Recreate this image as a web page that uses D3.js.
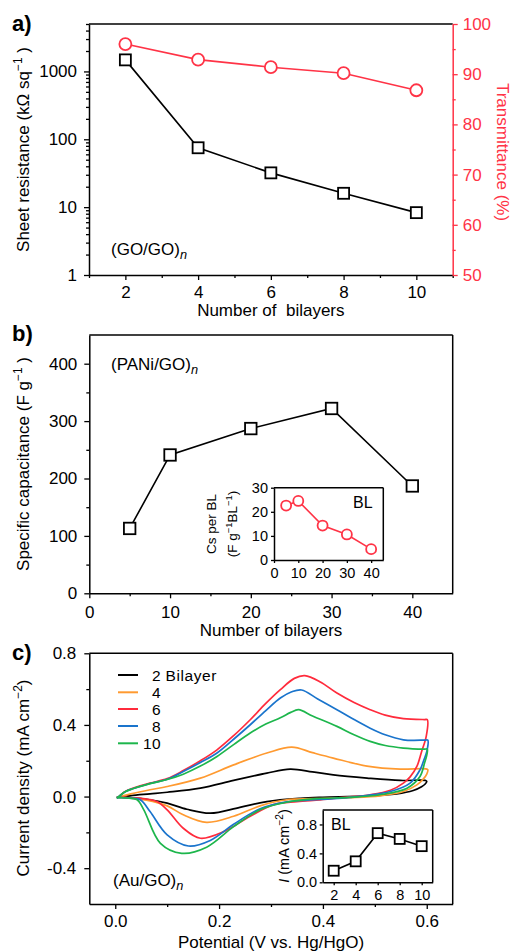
<!DOCTYPE html>
<html><head><meta charset="utf-8">
<script src="https://cdn.jsdelivr.net/npm/d3@7"></script>
<style>body{margin:0;background:#fff} svg{display:block} text{font-family:"Liberation Sans",Arial,Helvetica,sans-serif}</style>
</head><body><svg id="chart" width="513" height="951"></svg>
<script>
// ---------- data ----------
const bilayersA = [2, 4, 6, 8, 10];
const sheetResistance = [1480, 75, 32, 16, 8.3];
const transmittance = [96.0, 92.9, 91.4, 90.2, 86.8];

const bilayersB = [5, 10, 20, 30, 40];
const specificCapacitance = [113, 241, 287, 322, 187];
const capacitancePerBL = [22.6, 24.5, 14.3, 10.6, 4.5];

const bilayersC = [2, 4, 6, 8, 10];
const peakCurrent = [0.16, 0.29, 0.68, 0.60, 0.50];

const cvLabels = ["2", "4", "6", "8", "10"];
const cvColors = ["#000000", "#ff9a30", "#ff2b3c", "#1a74cc", "#1db64c"];

const cv2 = [[0.003,-0.005],[0.03,0.005],[0.067,0.015],[0.1,0.024],[0.164,0.047],[0.228,0.09],[0.292,0.131],[0.337,0.153],[0.38,0.138],[0.42,0.121],[0.485,0.103],[0.549,0.09],[0.598,0.09],
  [0.6,0.085],[0.597,0.07],[0.59,0.055],[0.574,0.034],[0.542,0.015],[0.478,0.002],[0.4,-0.004],[0.356,-0.01],[0.292,-0.028],[0.24,-0.06],[0.183,-0.093],[0.138,-0.071],[0.1,-0.037],[0.06,-0.015],[0.02,-0.005],[0.003,-0.002]];
const cv4 = [[0.003,-0.005],[0.03,0.015],[0.067,0.038],[0.1,0.056],[0.164,0.103],[0.228,0.177],[0.292,0.243],[0.34,0.276],[0.38,0.245],[0.42,0.215],[0.485,0.17],[0.549,0.153],[0.598,0.155],
  [0.602,0.15],[0.6,0.125],[0.594,0.1],[0.581,0.065],[0.555,0.028],[0.51,0.004],[0.45,-0.006],[0.38,-0.012],[0.33,-0.018],[0.279,-0.052],[0.228,-0.11],[0.176,-0.144],[0.131,-0.102],[0.1,-0.052],[0.06,-0.02],[0.02,-0.006],[0.003,-0.003]];
const cv6 = [[0.003,-0.01],[0.02,0.03],[0.035,0.047],[0.067,0.075],[0.1,0.1],[0.131,0.145],[0.164,0.2],[0.196,0.261],[0.228,0.34],[0.26,0.429],[0.29,0.52],[0.318,0.597],[0.345,0.66],[0.365,0.675],[0.395,0.64],[0.427,0.578],[0.46,0.525],[0.491,0.485],[0.52,0.455],[0.555,0.435],[0.596,0.43],
  [0.601,0.43],[0.599,0.336],[0.59,0.25],[0.581,0.168],[0.568,0.11],[0.555,0.075],[0.53,0.035],[0.491,0.01],[0.44,-0.005],[0.395,-0.018],[0.35,-0.028],[0.305,-0.045],[0.26,-0.11],[0.209,-0.196],[0.164,-0.233],[0.131,-0.177],[0.1,-0.074],[0.08,-0.028],[0.05,-0.01],[0.02,-0.005],[0.003,-0.005]];
const cv8 = [[0.003,-0.01],[0.02,0.028],[0.035,0.045],[0.067,0.073],[0.1,0.097],[0.131,0.14],[0.164,0.19],[0.196,0.243],[0.228,0.32],[0.26,0.401],[0.29,0.48],[0.318,0.55],[0.34,0.585],[0.359,0.595],[0.39,0.545],[0.427,0.485],[0.46,0.43],[0.491,0.382],[0.52,0.345],[0.555,0.317],[0.596,0.315],
  [0.602,0.315],[0.6,0.25],[0.594,0.2],[0.587,0.149],[0.568,0.075],[0.53,0.028],[0.478,0.004],[0.42,-0.012],[0.37,-0.02],[0.33,-0.03],[0.279,-0.068],[0.228,-0.155],[0.183,-0.245],[0.141,-0.276],[0.1,-0.214],[0.067,-0.084],[0.048,-0.018],[0.02,-0.008],[0.003,-0.005]];
const cv10 = [[0.003,-0.01],[0.02,0.028],[0.035,0.045],[0.067,0.072],[0.1,0.095],[0.131,0.125],[0.164,0.17],[0.196,0.224],[0.228,0.29],[0.26,0.355],[0.29,0.405],[0.318,0.44],[0.338,0.47],[0.353,0.485],[0.38,0.45],[0.427,0.392],[0.46,0.345],[0.491,0.308],[0.52,0.285],[0.555,0.271],[0.596,0.265],
  [0.601,0.265],[0.6,0.23],[0.596,0.19],[0.587,0.112],[0.562,0.047],[0.51,0.01],[0.45,-0.005],[0.388,-0.012],[0.33,-0.032],[0.279,-0.074],[0.228,-0.168],[0.176,-0.283],[0.128,-0.317],[0.087,-0.261],[0.055,-0.074],[0.042,-0.018],[0.02,-0.008],[0.003,-0.005]];
const cvCurves = [cv2, cv4, cv6, cv8, cv10];

// ---------- helpers ----------
const svg = d3.select("#chart");
const RED = "#ff3346";
const FS = 17;
const TFS = 17;

function drawAxis(axisFn, scale, transform, majors, minors, fmt, color, fs, majLen, minLen, pad) {
  const g = svg.append("g").attr("transform", transform);
  g.call(axisFn(scale).tickValues(majors).tickFormat(fmt).tickSize(majLen).tickSizeOuter(0).tickPadding(pad));
  g.select(".domain").attr("stroke", color).attr("stroke-width", 1.5);
  g.selectAll(".tick line").attr("stroke", color).attr("stroke-width", 1.3);
  g.selectAll(".tick text").attr("fill", color).attr("font-size", fs);
  if (minors && minors.length) {
    const gm = svg.append("g").attr("transform", transform);
    gm.call(axisFn(scale).tickValues(minors).tickFormat("").tickSize(minLen).tickSizeOuter(0));
    gm.select(".domain").remove();
    gm.selectAll(".tick line").attr("stroke", color).attr("stroke-width", 1.3);
  }
  return g;
}
function hline(x1, x2, y, color) {
  svg.append("line").attr("x1", x1).attr("x2", x2).attr("y1", y).attr("y2", y).attr("stroke", color || "#000").attr("stroke-width", 1.5);
}
function vline(x, y1, y2, color) {
  svg.append("line").attr("x1", x).attr("x2", x).attr("y1", y1).attr("y2", y2).attr("stroke", color || "#000").attr("stroke-width", 1.5);
}
function label(x, y, txt, opts) {
  opts = opts || {};
  const t = svg.append("text").attr("x", x).attr("y", y).attr("font-size", opts.fs || FS)
    .attr("fill", opts.color || "#000").attr("text-anchor", opts.anchor || "start");
  if (opts.weight) t.attr("font-weight", opts.weight);
  if (opts.pre) t.style("white-space", "pre");
  if (opts.ls) t.attr("letter-spacing", opts.ls);
  t.text(txt);
  return t;
}
function rotLabel(x, y, angle, parts, opts) {
  opts = opts || {};
  const fs = opts.fs || FS;
  const t = svg.append("text").attr("transform", `translate(${x},${y}) rotate(${angle})`)
    .attr("text-anchor", "middle").attr("font-size", fs).attr("fill", opts.color || "#000");
  parts.forEach(p => {
    const s = t.append("tspan").text(p.t);
    if (p.sup) s.attr("font-size", fs * 0.7).attr("dy", -fs * 0.4);
    if (p.down) s.attr("dy", fs * 0.4);
    if (p.it) s.attr("font-style", "italic");
  });
  return t;
}
function subLabel(x, y, main, sub) {
  const t = svg.append("text").attr("x", x).attr("y", y).attr("font-size", FS);
  t.append("tspan").text(main);
  t.append("tspan").text(sub).attr("font-style", "italic").attr("font-size", FS * 0.75).attr("dy", 4);
}
function squares(xs, ys, xS, yS, size, color) {
  svg.append("g").selectAll("rect").data(xs.map((d, i) => [d, ys[i]])).join("rect")
    .attr("x", d => xS(d[0]) - size / 2).attr("y", d => yS(d[1]) - size / 2)
    .attr("width", size).attr("height", size)
    .attr("fill", "#fff").attr("stroke", color).attr("stroke-width", 1.8);
}
function circles(xs, ys, xS, yS, r, color) {
  svg.append("g").selectAll("circle").data(xs.map((d, i) => [d, ys[i]])).join("circle")
    .attr("cx", d => xS(d[0])).attr("cy", d => yS(d[1])).attr("r", r)
    .attr("fill", "#fff").attr("stroke", color).attr("stroke-width", 1.8);
}
function polyline(xs, ys, xS, yS, color) {
  svg.append("path").datum(xs.map((d, i) => [d, ys[i]]))
    .attr("d", d3.line().x(d => xS(d[0])).y(d => yS(d[1])))
    .attr("fill", "none").attr("stroke", color).attr("stroke-width", 1.6);
}

// ---------- panel a ----------
const aL = 89, aR = 452.7, aT = 24, aB = 275;
const xA = d3.scaleLinear().domain([1, 11]).range([aL, aR]);
const yA = d3.scaleLog().domain([1, 5000]).range([aB, aT]);
const yT = d3.scaleLinear().domain([50, 100]).range([aB, aT]);

hline(aL, aR, aT);
const logMinor = [];
[1, 10, 100, 1000].forEach(dec => { for (let k = 2; k <= 9; k++) if (dec * k <= 5000) logMinor.push(dec * k); });
drawAxis(d3.axisLeft, yA, `translate(${aL},0)`, [1, 10, 100, 1000], logMinor, d3.format("d"), "#000", TFS, 5, 3, 7);
drawAxis(d3.axisBottom, xA, `translate(0,${aB})`, [2, 4, 6, 8, 10], [1, 3, 5, 7, 9, 11], d3.format("d"), "#000", TFS, 5, 3, 6);
drawAxis(d3.axisRight, yT, `translate(${aR},0)`, [50, 60, 70, 80, 90, 100], [55, 65, 75, 85, 95], d3.format("d"), RED, TFS, 5, 3, 5);

polyline(bilayersA, sheetResistance, xA, yA, "#000");
polyline(bilayersA, transmittance, xA, yT, RED);
squares(bilayersA, sheetResistance, xA, yA, 11, "#000");
circles(bilayersA, transmittance, xA, yT, 6, RED);

label(12, 30.5, "a)", {fs: 22, weight: "bold"});
subLabel(111, 255, "(GO/GO)", "n");
label((aL + aR) / 2, 316, "Number of  bilayers", {anchor: "middle", pre: true});
rotLabel(29, 149.5, -90, [{t: "Sheet resistance (kΩ sq"}, {t: "−1", sup: true}, {t: " )", down: true}]);
rotLabel(497, 152, 90, [{t: "Transmittance (%)"}], {color: RED});

// ---------- panel b ----------
const bL = 89.3, bR = 452.7, bT = 335, bB = 593.3;
const xB = d3.scaleLinear().domain([0, 45]).range([bL, bR]);
const yB = d3.scaleLinear().domain([0, 450]).range([bB, bT]);
hline(bL, bR, bT); vline(bR, bT, bB);
drawAxis(d3.axisLeft, yB, `translate(${bL},0)`, [0, 100, 200, 300, 400], [50, 150, 250, 350], d3.format("d"), "#000", TFS, 5, 3, 7);
drawAxis(d3.axisBottom, xB, `translate(0,${bB})`, [0, 10, 20, 30, 40], [5, 15, 25, 35], d3.format("d"), "#000", TFS, 5, 3, 8);
polyline(bilayersB, specificCapacitance, xB, yB, "#000");
squares(bilayersB, specificCapacitance, xB, yB, 11.5, "#000");
label(12, 340.5, "b)", {fs: 22, weight: "bold"});
subLabel(111, 370, "(PANi/GO)", "n");
label((bL + bR) / 2, 636, "Number of bilayers", {anchor: "middle"});
rotLabel(29, 464, -90, [{t: "Specific capacitance (F g"}, {t: "−1", sup: true}, {t: " )", down: true}]);

// inset b
const ibL = 274, ibR = 383.3, ibT = 487.7, ibB = 560;
const xBi = d3.scaleLinear().domain([0, 45]).range([ibL, ibR]);
const yBi = d3.scaleLinear().domain([0, 30]).range([ibB, ibT]);
hline(ibL, ibR, ibT); vline(ibR, ibT, ibB);
drawAxis(d3.axisLeft, yBi, `translate(${ibL},0)`, [0, 10, 20, 30], [], d3.format("d"), "#000", 14.5, 3, 0, 3);
drawAxis(d3.axisBottom, xBi, `translate(0,${ibB})`, [0, 10, 20, 30, 40], [], d3.format("d"), "#000", 14.5, 3, 0, 5);
polyline(bilayersB, capacitancePerBL, xBi, yBi, RED);
circles(bilayersB, capacitancePerBL, xBi, yBi, 5, RED);
label(353, 508, "BL", {fs: 16});
rotLabel(216, 524, -90, [{t: "Cs per BL"}], {fs: 13.5});
rotLabel(237, 524, -90, [{t: "(F g"}, {t: "−1", sup: true}, {t: "BL", down: true}, {t: "−1", sup: true}, {t: ")", down: true}], {fs: 13.5});

// ---------- panel c ----------
const cL = 89.3, cR = 452.7, cT = 653.3, cB = 904;
const xC = d3.scaleLinear().domain([-0.05, 0.65]).range([cL, cR]);
const yC = d3.scaleLinear().domain([-0.6, 0.8]).range([cB, cT]);
hline(cL, cR, cT); vline(cR, cT, cB);
drawAxis(d3.axisLeft, yC, `translate(${cL},0)`, [-0.4, 0, 0.4, 0.8], [-0.2, 0.2, 0.6], d => (d < 0 ? "-" : "") + Math.abs(d).toFixed(1), "#000", TFS, 5, 3, 8);
drawAxis(d3.axisBottom, xC, `translate(0,${cB})`, [0, 0.2, 0.4, 0.6], [0.1, 0.3, 0.5], d3.format(".1f"), "#000", TFS, 5, 3, 6);

const cvLine = d3.line().x(d => xC(d[0])).y(d => yC(d[1])).curve(d3.curveCatmullRom.alpha(0.5));
cvCurves.forEach((c, i) => {
  svg.append("path").datum(c).attr("d", cvLine).attr("fill", "none")
    .attr("stroke", cvColors[i]).attr("stroke-width", 1.7).attr("stroke-linejoin", "round");
});

// legend
const legY = [675, 692.3, 709, 726, 743.3];
cvLabels.forEach((l, i) => {
  svg.append("line").attr("x1", 118).attr("x2", 138).attr("y1", legY[i]).attr("y2", legY[i])
    .attr("stroke", cvColors[i]).attr("stroke-width", 2);
  label(161, legY[i] + 5.5, l, {anchor: "end", fs: 15.5, ls: 0.4});
});
label(165.5, legY[0] + 5.5, "Bilayer", {fs: 15.5, ls: 0.6});

label(12, 659.5, "c)", {fs: 22, weight: "bold"});
subLabel(113, 885.5, "(Au/GO)", "n");
label((cL + cR) / 2, 948, "Potential (V vs. Hg/HgO)", {anchor: "middle"});
rotLabel(29, 778, -90, [{t: "Current density (mA cm"}, {t: "−2", sup: true}, {t: ")", down: true}]);

// inset c
const icL = 322.7, icR = 432.7, icT = 810, icB = 882.3;
const xCi = d3.scaleLinear().domain([1, 11]).range([icL, icR]);
const yCi = d3.scaleLinear().domain([0, 1]).range([icB, icT]);
svg.append("rect").attr("x", icL).attr("y", icT).attr("width", icR - icL).attr("height", icB - icT).attr("fill", "#fff");
hline(icL, icR, icT); vline(icR, icT, icB);
drawAxis(d3.axisLeft, yCi, `translate(${icL},0)`, [0, 0.4, 0.8], [], d3.format(".1f"), "#000", 14.5, 3, 0, 2.5);
drawAxis(d3.axisBottom, xCi, `translate(0,${icB})`, [2, 4, 6, 8, 10], [], d3.format("d"), "#000", 14.5, 3, 0, 4);
polyline(bilayersC, peakCurrent, xCi, yCi, "#000");
squares(bilayersC, peakCurrent, xCi, yCi, 10, "#000");
label(331, 829.5, "BL", {fs: 16});
rotLabel(289, 846, -90, [{t: "I", it: true}, {t: " (mA cm"}, {t: "−2", sup: true}, {t: ")", down: true}], {fs: 14.5});
</script></body></html>
